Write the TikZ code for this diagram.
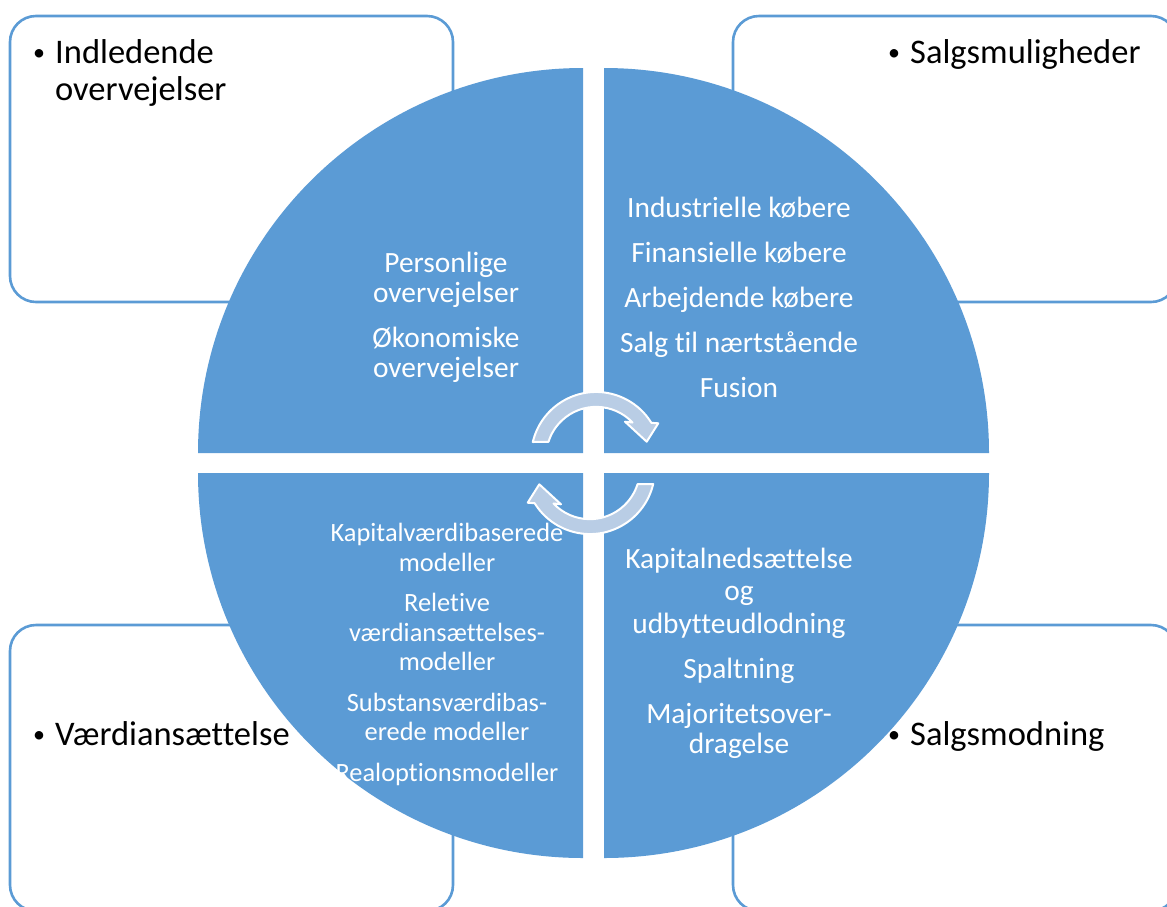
\documentclass[tikz,border=0pt]{standalone}
\usepackage{fontspec}
\setmainfont{Carlito}[Ligatures={NoCommon}]
\definecolor{accent}{RGB}{91,155,213}
\definecolor{arrowfill}{RGB}{185,205,229}
\begin{document}
\begin{tikzpicture}[x=1pt,y=1pt,yscale=-1,
  cornerbox/.style={draw=accent, line width=2.6pt, rounded corners=26pt, fill=white},
  quad/.style={fill=accent},
  cornertext/.style={font=\fontsize{34.5}{37}\selectfont, text=black, inner sep=0pt},
  bulletmark/.style={font=\fontsize{24}{26}\selectfont, text=black, inner sep=0pt},
  quadtext/.style={font=\fontsize{29.4}{31.5}\selectfont, text=white, inner sep=0pt},
  smalltext/.style={font=\fontsize{26.4}{29}\selectfont, text=white, inner sep=0pt},
  cyclearrow/.style={fill=arrowfill, draw=white, line width=2pt, line join=round}]
\useasboundingbox (0,0) rectangle (1167,906);
\clip (0,0) rectangle (1167,906);

% corner boxes
\draw[cornerbox] (10,16) rectangle (453,302);
\draw[cornerbox] (733,16) rectangle (1177,302);
\draw[cornerbox] (10,625) rectangle (453,911);
\draw[cornerbox] (733,625) rectangle (1177,911);

% corner texts
\node[bulletmark, anchor=base] (b1) at (39,60) {•};
\node[cornertext, anchor=base west] (c1a) at (55,63) {Indledende};
\node[cornertext, anchor=base west] (c1b) at (55,100) {overvejelser};
\node[bulletmark, anchor=base] (b2) at (894,60) {•};
\node[cornertext, anchor=base west] (c2) at (910,63) {Salgsmuligheder};
\node[bulletmark, anchor=base] (b3) at (39,742) {•};
\node[cornertext, anchor=base west] (c3) at (55,745) {Værdiansættelse};
\node[bulletmark, anchor=base] (b4) at (894,742) {•};
\node[cornertext, anchor=base west] (c4) at (910,745) {Salgsmodning};

% quadrants
\fill[quad] (583,453) -- (198,453) arc[start angle=180, end angle=270, radius=385] -- cycle;
\fill[quad] (604,453) -- (604,68) arc[start angle=270, end angle=360, radius=385] -- cycle;
\fill[quad] (604,473) -- (989,473) arc[start angle=0, end angle=90, radius=385] -- cycle;
\fill[quad] (583,473) -- (583,858) arc[start angle=90, end angle=180, radius=385] -- cycle;

% quadrant texts
\foreach \t/\yy [count=\i] in {Personlige/272, overvejelser/302, Økonomiske/347, overvejelser/377}
  \node[quadtext, anchor=base] (tl\i) at (446,\yy) {\t};
\foreach \t/\yy [count=\i] in {Industrielle købere/217, Finansielle købere/262, Arbejdende købere/307, Salg til nærtstående/352, Fusion/397}
  \node[quadtext, anchor=base] (tr\i) at (739,\yy) {\t};
\foreach \t/\yy [count=\i] in {Kapitalnedsættelse/568, og/600.5, udbytteudlodning/633, Spaltning/678, Majoritetsover-/723, dragelse/753}
  \node[quadtext, anchor=base] (br\i) at (739,\yy) {\t};
\foreach \t/\yy [count=\i] in {Kapitalværdibaserede/541.7, modeller/571.7, Reletive/611.7, værdiansættelses-/641.7, modeller/670, Substansværdibas-/711.7, erede modeller/740, Realoptionsmodeller/781.7}
  \node[smalltext, anchor=base] (bl\i) at (447,\yy) {\t};

% cycle arrows
\filldraw[cyclearrow] (532.8,442) arc[start angle=193.3, end angle=328.3, radius=65]
  -- (658.3,423.3) -- (646.7,441.7) -- (625,421.7) -- (632.5,422.5)
  arc[start angle=316.6, end angle=197.5, radius=50] -- cycle;
\filldraw[cyclearrow] (653.2,484) arc[start angle=13.3, end angle=148.3, radius=65]
  -- (527.7,502.7) -- (539.3,484.3) -- (561,504.3) -- (553.5,503.5)
  arc[start angle=136.6, end angle=17.5, radius=50] -- cycle;
\end{tikzpicture}
\end{document}
